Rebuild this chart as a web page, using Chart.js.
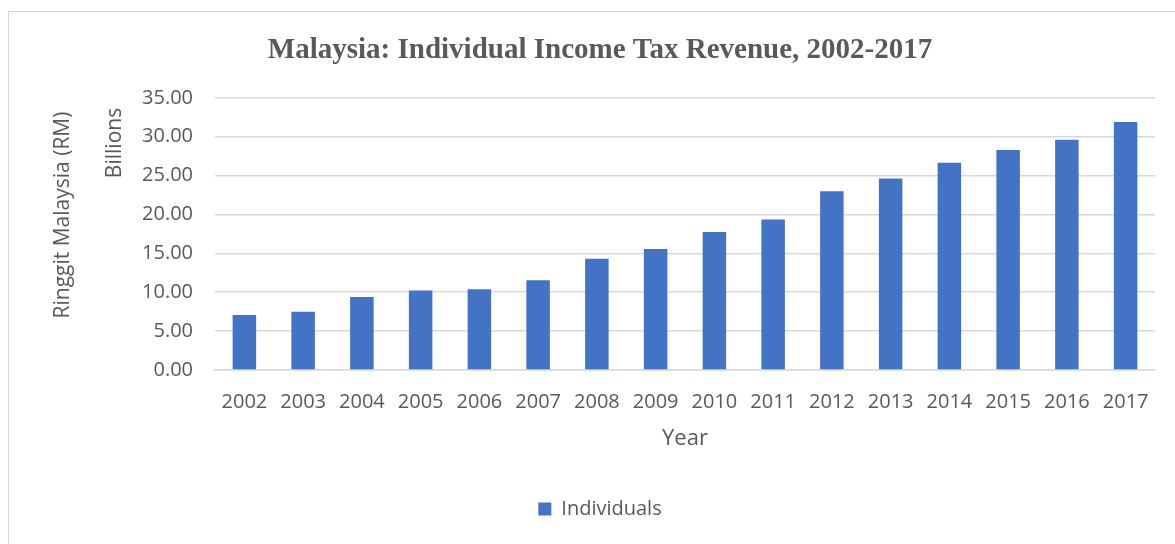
<!DOCTYPE html>
<html>
<head>
<meta charset="utf-8">
<title>Malaysia: Individual Income Tax Revenue, 2002-2017</title>
<script src="https://cdn.jsdelivr.net/npm/chart.js@4/dist/chart.umd.min.js"></script>
<style>
    html, body { margin: 0; padding: 0; background: #ffffff; overflow: hidden; }
    #wrap { position: relative; width: 1175px; height: 544px; }
    #frame {
        position: absolute; left: 8px; top: 11px;
        width: 1200px; height: 600px;
        border: 1px solid #d9d9d9; box-sizing: border-box;
    }
    #revenueChart { position: absolute; left: 0; top: 0; }
</style>
</head>
<body>
<div id="wrap">
    <div id="frame"></div>
    <canvas id="revenueChart" width="1175" height="544"></canvas>
</div>
<script>
// ============================================
// Individual income tax revenue (RM billions)
// ============================================

const years = ['2002', '2003', '2004', '2005', '2006', '2007', '2008', '2009',
               '2010', '2011', '2012', '2013', '2014', '2015', '2016', '2017'];
const individuals = [7.06, 7.49, 9.38, 10.21, 10.39, 11.55, 14.31, 15.56,
                     17.76, 19.35, 22.97, 24.61, 26.64, 28.28, 29.61, 31.90];
const yTicks = [0, 5, 10, 15, 20, 25, 30, 35];

const TEXT = '#595959';
const GRID = '#d9d9d9';
const BAR = '#4472c4';
const SANS = '"Open Sans", "Noto Sans", sans-serif';

// Rotated axis caption + display-unit label on the left side
const sideLabels = {
    id: 'sideLabels',
    afterDraw(chart) {
        const c = chart.ctx;
        c.save();
        c.fillStyle = TEXT;
        c.textAlign = 'center';
        c.textBaseline = 'middle';
        c.font = '21px ' + SANS;
        c.translate(63, 215);
        c.rotate(-Math.PI / 2);
        c.fillText('Ringgit Malaysia (RM)', 0, 0);
        c.restore();

        c.save();
        c.fillStyle = TEXT;
        c.textAlign = 'center';
        c.textBaseline = 'middle';
        c.font = '21px ' + SANS;
        c.translate(115, 143);
        c.rotate(-Math.PI / 2);
        c.fillText('Billions', 0, 0);
        c.restore();
    }
};

const ctx = document.getElementById('revenueChart');

new Chart(ctx, {
    type: 'bar',
    data: {
        labels: years,
        datasets: [{
            label: 'Individuals',
            data: individuals,
            backgroundColor: BAR,
            borderWidth: 0,
            barPercentage: 0.4,
            categoryPercentage: 1.0
        }]
    },
    options: {
        responsive: false,
        animation: false,
        layout: {
            padding: { left: 45, right: 20, top: 0, bottom: 15 }
        },
        plugins: {
            title: {
                display: true,
                text: 'Malaysia: Individual Income Tax Revenue, 2002-2017',
                color: TEXT,
                font: { family: '"Liberation Serif", "Times New Roman", serif', size: 29, weight: 'bold', lineHeight: 1.2 },
                padding: { top: 33, bottom: 30 }
            },
            legend: {
                position: 'bottom',
                labels: {
                    color: TEXT,
                    boxWidth: 13,
                    boxHeight: 13,
                    padding: 10,
                    font: { family: SANS, size: 20 }
                }
            },
            tooltip: { enabled: false }
        },
        scales: {
            x: {
                grid: { display: false, drawTicks: false },
                border: { display: true, color: GRID, width: 1.5 },
                ticks: {
                    color: TEXT,
                    padding: 20,
                    maxRotation: 0,
                    autoSkip: false,
                    font: { family: SANS, size: 20 }
                },
                title: {
                    display: true,
                    text: 'Year',
                    color: TEXT,
                    font: { family: SANS, size: 22 },
                    padding: { top: 0, bottom: 37 }
                },
                afterFit(scale) { scale.height = 119; }
            },
            y: {
                min: 0,
                max: 35,
                afterBuildTicks(scale) {
                    scale.ticks = yTicks.map(v => ({ value: v }));
                },
                grid: { color: GRID, lineWidth: 1.5, drawTicks: false },
                border: { display: false },
                ticks: {
                    color: TEXT,
                    padding: 22,
                    font: { family: SANS, size: 20 },
                    callback: v => Number(v).toFixed(2)
                },
                afterFit(scale) { scale.width = 170; }
            }
        }
    },
    plugins: [sideLabels]
});
</script>
</body>
</html>
